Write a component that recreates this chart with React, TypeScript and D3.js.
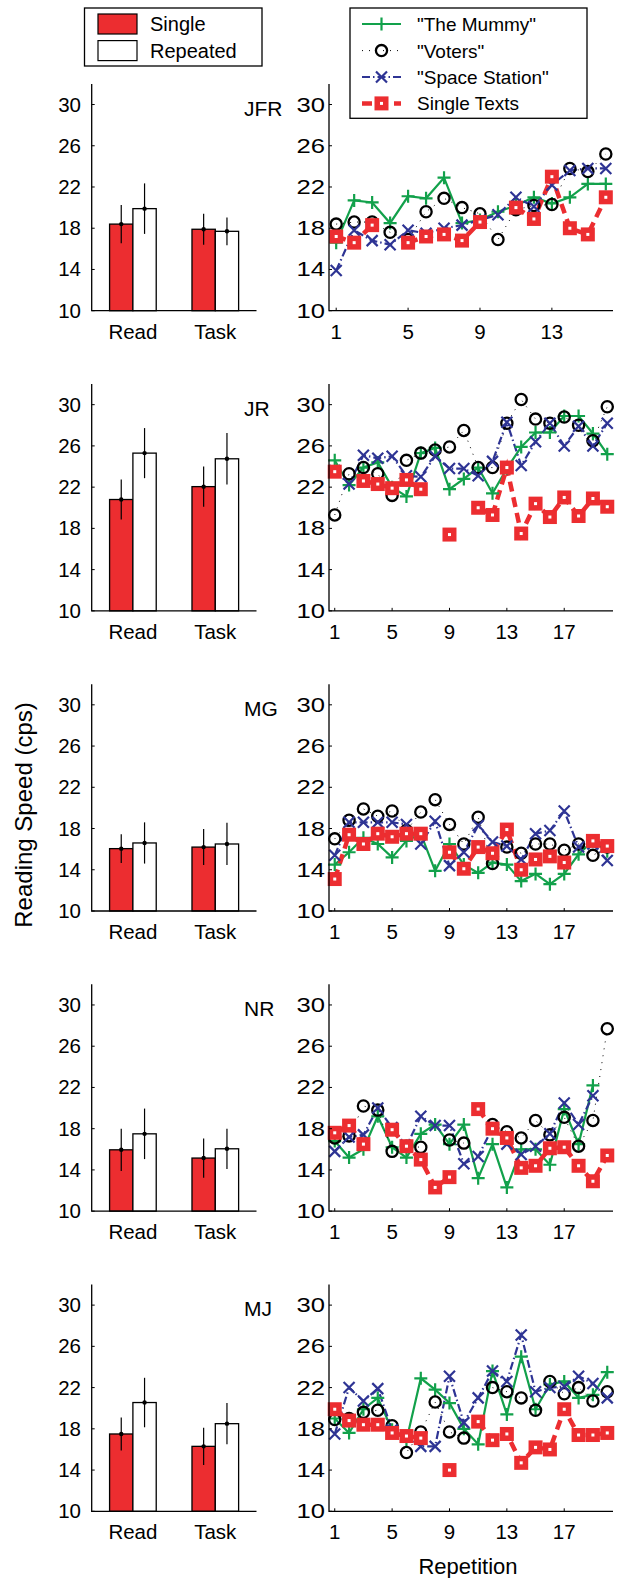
import React from 'react';
import * as d3 from 'd3';

const W = 618;
const H = 1578;
const FONT = '"Liberation Sans", Arial, Helvetica, sans-serif';

const RED = '#EC2D30';
const GREEN = '#12A14B';
const BLUE = '#2E3494';

const subjects = ['JFR', 'JR', 'MG', 'NR', 'MJ'];
const conditions = ['Read', 'Task'];
const yTicks = [10, 14, 18, 22, 26, 30];

// mean reading speed (cps) and error half-width, per subject, [Read, Task]
const singleMean = [[18.4, 17.9], [20.8, 22.05], [16.05, 16.2], [15.95, 15.15], [17.5, 16.3]];
const singleErr = [[1.85, 1.5], [1.95, 1.95], [1.4, 1.75], [2.05, 1.9], [1.6, 1.8]];
const repeatedMean = [[19.9, 17.7], [25.3, 24.75], [16.6, 16.5], [17.5, 16.05], [20.55, 18.5]];
const repeatedErr = [[2.45, 1.35], [2.43, 2.5], [2.0, 2.05], [2.45, 1.95], [2.4, 2.0]];

// reading speed by repetition; null = no reading at that repetition
const mummyJFR = [16.6, 20.7, 20.5, 18.5, 21.1, 20.9, 22.9, 18.5, 18.8, 19.6, 20.2, 21.0, 20.4, 21.0, 22.3, 22.3];
const votersJFR = [18.4, 18.6, 18.6, 17.6, 16.9, 19.6, 20.9, 20.0, 19.4, 16.9, 19.8, 20.2, 20.3, 23.8, 23.5, 25.2];
const spaceJFR = [13.9, 17.8, 16.8, 16.4, 17.8, 17.5, 18.0, 18.3, 18.8, 19.3, 21.0, 20.1, 22.2, 23.6, 23.8, 23.8];
const singleJFR = [17.2, 16.6, 18.3, null, 16.6, 17.2, 17.4, 16.8, 18.6, null, 20.0, 18.9, 23.0, 18.0, 17.4, 21.0];

const mummyJR = [24.6, 22.2, 23.9, 24.4, 22.0, 21.1, 25.3, 25.8, 21.8, 22.8, 23.9, 21.4, 23.8, 25.9, 27.3, 27.3, 28.9, 28.9, 27.2, 25.2];
const votersJR = [19.3, 23.3, 23.9, 23.3, 21.2, 24.6, 25.3, 25.6, 25.9, 27.5, 23.9, 23.9, 28.2, 30.5, 28.6, 28.2, 28.8, 28.0, 26.5, 29.8];
const spaceJR = [23.6, 22.3, 25.1, 24.8, 25.0, 23.1, 23.0, 25.0, 23.8, 23.8, 23.1, 24.5, 28.3, 24.1, 26.4, 28.2, 26.0, 27.9, 26.0, 28.2];
const singleJR = [23.5, null, 22.6, 22.3, 21.9, 22.7, 21.8, null, 17.4, null, 20.0, 19.3, 23.9, 17.5, 20.4, 19.1, 21.0, 19.2, 20.9, 20.1];

const mummyMG = [14.5, 15.7, 17.1, 16.5, 15.2, 16.8, 17.5, 13.9, 16.5, 14.5, 13.7, 14.7, 14.5, 12.9, 13.6, 12.6, 13.6, 15.5, 16.8, 15.8];
const votersMG = [17.0, 18.8, 19.9, 19.2, 19.7, 17.8, 19.6, 20.8, 18.4, 16.5, 19.1, 14.6, 16.2, 15.6, 16.5, 16.5, 15.9, 16.5, 15.4, 16.2];
const spaceMG = [15.4, 18.6, 18.6, 18.6, 18.6, 18.4, 16.5, 18.7, 14.4, 15.7, 18.3, 16.7, 16.3, 15.0, 17.5, 17.8, 19.7, 16.2, 16.5, 14.9];
const singleMG = [13.1, 17.4, 16.5, 17.5, 17.2, 17.5, 17.5, null, 15.7, 14.1, 16.2, 15.6, 17.9, 14.0, 15.0, 15.3, 14.7, null, 16.8, 16.3];

const mummyNR = [16.8, 15.2, 16.0, 19.2, 16.2, 15.2, 17.5, 18.4, 16.5, 18.4, 13.2, 16.5, 12.3, 16.0, 16.0, 14.5, 19.9, 16.5, 22.2, null];
const votersNR = [17.1, 17.3, 20.2, 19.8, 15.8, 16.3, 16.2, null, 16.9, 16.6, null, 18.4, 17.7, 17.1, 18.8, 17.4, 19.1, 16.3, 18.8, 27.7];
const spaceNR = [15.8, 17.2, 17.4, 20.0, 18.1, 16.3, 19.2, 18.3, 18.3, 14.6, 15.3, 18.1, 16.5, 15.5, 16.3, 17.5, 20.5, 18.4, 21.2, null];
const singleNR = [17.6, 18.3, 16.5, null, 17.9, 16.3, 15.0, 12.3, 13.3, null, 19.9, 18.0, 17.1, 14.2, 14.4, 16.1, 16.2, 14.4, 12.9, 15.4];

const mummyMJ = [19.0, 17.6, 19.9, 21.0, 17.9, 16.9, 22.9, 21.8, 20.5, 18.0, 16.5, 23.6, 19.4, 25.0, 19.9, 22.3, 22.6, 21.0, 21.3, 23.5];
const votersMJ = [18.9, 19.0, 19.6, 19.8, 18.3, 15.7, 17.7, 20.6, 17.7, 17.1, null, 22.0, 21.6, 21.0, 19.8, 22.6, 21.4, 22.0, 20.7, 21.6];
const spaceMJ = [17.5, 22.0, 20.7, 21.9, 17.9, 17.3, 16.3, 16.3, 23.1, 18.6, 21.0, 23.6, 22.6, 27.1, 21.6, 22.0, 22.1, 23.1, 22.4, 21.0];
const singleMJ = [19.9, 18.8, 18.4, 18.4, 17.6, 17.3, 17.1, null, 14.0, null, 18.7, 16.9, 17.5, 14.7, 16.2, 16.0, 19.9, 17.4, 17.4, 17.6];

const mummy = [mummyJFR, mummyJR, mummyMG, mummyNR, mummyMJ];
const voters = [votersJFR, votersJR, votersMG, votersNR, votersMJ];
const space = [spaceJFR, spaceJR, spaceMG, spaceNR, spaceMJ];
const single = [singleJFR, singleJR, singleMG, singleNR, singleMJ];

const seriesNames = ['"The Mummy"', '"Voters"', '"Space Station"', 'Single Texts'];
const barLegend = ['Single', 'Repeated'];

type V = number | null;

const PlusMark = ({ x, y }: { x: number; y: number }) => (
  <path d={`M${x - 6.5},${y}H${x + 6.5}M${x},${y - 6.5}V${y + 6.5}`} stroke={GREEN} strokeWidth={2.2} fill="none" />
);
const CircleMark = ({ x, y }: { x: number; y: number }) => (
  <circle cx={x} cy={y} r={5.6} stroke="#000" strokeWidth={2.3} fill="none" />
);
const CrossMark = ({ x, y }: { x: number; y: number }) => (
  <path d={`M${x - 5.5},${y - 5.5}L${x + 5.5},${y + 5.5}M${x - 5.5},${y + 5.5}L${x + 5.5},${y - 5.5}`} stroke={BLUE} strokeWidth={2.2} fill="none" />
);
const SquareMark = ({ x, y }: { x: number; y: number }) => (
  <g>
    <rect x={x - 7} y={y - 7} width={14} height={14} fill={RED} />
    <rect x={x - 1.5} y={y - 1.5} width={3} height={3} fill="#fff" />
  </g>
);

const seriesStyle = [
  { color: GREEN, width: 2.2, dash: undefined as string | undefined, Mark: PlusMark },
  { color: '#000', width: 1, dash: '1,6', Mark: CircleMark },
  { color: BLUE, width: 2.2, dash: '8,3,1.5,3', Mark: CrossMark },
  { color: RED, width: 4.5, dash: '10,6', Mark: SquareMark },
];

function Panel({ idx }: { idx: number }) {
  const base = 310.7 + 300.15 * idx;
  const y = d3.scaleLinear().domain([10, 32]).range([base, base - 226.8]);
  const xb = d3.scaleLinear().domain([0.5, 2.5]).range([91.7, 256.5]);
  const n = mummy[idx].length;
  const xr = d3.scaleLinear().domain([0.6, n + 0.4]).range([329, 613]);
  const xTicks = d3.range(1, n + 1, 4);
  const barW = 0.283;

  const allSeries: V[][] = [mummy[idx], voters[idx], space[idx], single[idx]];
  const line = d3
    .line<V>()
    .defined((d) => d !== null)
    .x((_, i) => xr(i + 1))
    .y((d) => y(d as number));

  return (
    <g>
      {/* bar panel */}
      {conditions.map((c, ci) => {
        const cx = ci + 1;
        const bars = [
          { m: singleMean[idx][ci], e: singleErr[idx][ci], x0: cx - barW, fill: RED },
          { m: repeatedMean[idx][ci], e: repeatedErr[idx][ci], x0: cx, fill: '#fff' },
        ];
        return (
          <g key={c}>
            {bars.map((b, bi) => (
              <g key={bi}>
                <rect
                  x={xb(b.x0)}
                  y={y(b.m)}
                  width={xb(b.x0 + barW) - xb(b.x0)}
                  height={y(10) - y(b.m)}
                  fill={b.fill}
                  stroke="#000"
                  strokeWidth={1.3}
                />
                <line
                  x1={xb(b.x0 + barW / 2)}
                  x2={xb(b.x0 + barW / 2)}
                  y1={y(b.m + b.e)}
                  y2={y(b.m - b.e)}
                  stroke="#000"
                  strokeWidth={1.2}
                />
                <circle cx={xb(b.x0 + barW / 2)} cy={y(b.m)} r={2.2} fill="#000" />
              </g>
            ))}
            <text x={xb(cx)} y={base + 28} fontSize={20.5} textAnchor="middle" fontFamily={FONT}>
              {c}
            </text>
          </g>
        );
      })}
      <path d={`M${xb(0.5)},${y(32)}V${base}H${xb(2.5)}`} fill="none" stroke="#000" strokeWidth={1.3} />
      {yTicks.map((t) => (
        <g key={t}>
          <line x1={xb(0.5)} x2={xb(0.5) + 3} y1={y(t)} y2={y(t)} stroke="#000" strokeWidth={1} />
          <text x={81} y={y(t) + 7} fontSize={20.5} textAnchor="end" fontFamily={FONT}>
            {t}
          </text>
        </g>
      ))}
      <text x={244} y={y(30) + 11} fontSize={21} fontFamily={FONT}>
        {subjects[idx]}
      </text>

      {/* repetition panel */}
      {allSeries.map((s, si) => {
        const st = seriesStyle[si];
        return (
          <path
            key={'l' + si}
            d={line(s) || ''}
            fill="none"
            stroke={st.color}
            strokeWidth={st.width}
            strokeDasharray={st.dash}
            strokeLinecap="butt"
          />
        );
      })}
      {allSeries.map((s, si) => {
        const Mark = seriesStyle[si].Mark;
        return (
          <g key={'m' + si}>
            {s.map((d, i) => (d === null ? null : <Mark key={i} x={xr(i + 1)} y={y(d)} />))}
          </g>
        );
      })}
      <path d={`M${xr(0.6)},${y(32)}V${base}H${xr(n + 0.4)}`} fill="none" stroke="#000" strokeWidth={1.3} />
      {yTicks.map((t) => (
        <g key={'r' + t}>
          <line x1={xr(0.6)} x2={xr(0.6) + 3} y1={y(t)} y2={y(t)} stroke="#000" strokeWidth={1} />
          <text
            transform={`translate(325,${y(t) + 7}) scale(1.25,1)`}
            fontSize={20.5}
            textAnchor="end"
            fontFamily={FONT}
          >
            {t}
          </text>
        </g>
      ))}
      {xTicks.map((t) => (
        <g key={'x' + t}>
          <line x1={xr(t)} x2={xr(t)} y1={base} y2={base - 3} stroke="#000" strokeWidth={1} />
          <text x={xr(t)} y={base + 28} fontSize={20.5} textAnchor="middle" fontFamily={FONT}>
            {t}
          </text>
        </g>
      ))}
    </g>
  );
}

function Legends() {
  const rows = [24, 50.6, 77, 103.4];
  return (
    <g fontFamily={FONT}>
      <rect x={84.5} y={8} width={177.5} height={58} fill="#fff" stroke="#000" strokeWidth={1.3} />
      {barLegend.map((name, i) => (
        <g key={name}>
          <rect x={98} y={14 + i * 26.6} width={39} height={20} fill={i === 0 ? RED : '#fff'} stroke="#000" strokeWidth={1.2} />
          <text x={150} y={24 + i * 26.6 + 7} fontSize={20}>
            {name}
          </text>
        </g>
      ))}

      <rect x={350} y={8} width={237} height={110.3} fill="#fff" stroke="#000" strokeWidth={1.3} />
      {seriesNames.map((name, i) => {
        const st = seriesStyle[i];
        const Mark = st.Mark;
        return (
          <g key={name}>
            <line
              x1={362}
              x2={401}
              y1={rows[i]}
              y2={rows[i]}
              stroke={st.color}
              strokeWidth={st.width}
              strokeDasharray={st.dash}
            />
            <Mark x={381.5} y={rows[i]} />
            <text x={417} y={rows[i] + 7} fontSize={19}>
              {name}
            </text>
          </g>
        );
      })}
    </g>
  );
}

export default function App() {
  return (
    <svg
      width={W}
      height={H}
      viewBox={`0 0 ${W} ${H}`}
      style={{ position: 'absolute', left: 0, top: 0, background: '#fff' }}
    >
      <rect width={W} height={H} fill="#fff" />
      {subjects.map((s, i) => (
        <Panel key={s} idx={i} />
      ))}
      <Legends />
      <text
        transform="translate(32,815) rotate(-90)"
        textAnchor="middle"
        fontSize={24}
        fontFamily={FONT}
      >
        Reading Speed (cps)
      </text>
      <text x={468} y={1574} textAnchor="middle" fontSize={22} fontFamily={FONT}>
        Repetition
      </text>
    </svg>
  );
}
